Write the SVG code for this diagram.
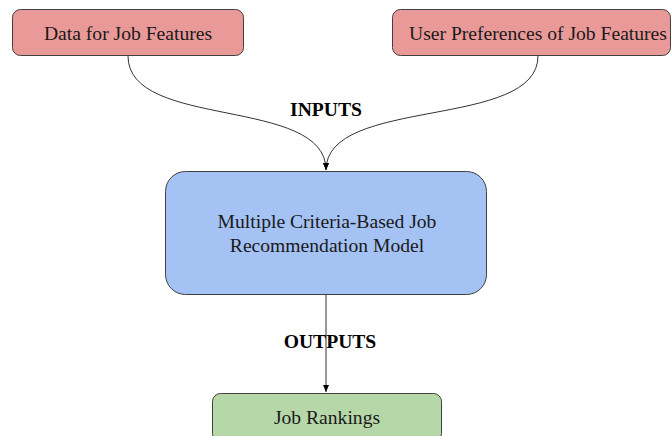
<svg xmlns="http://www.w3.org/2000/svg" width="672" height="436" viewBox="0 0 672 436">
<style>
.node{stroke:#404040;stroke-width:1}
.red{fill:#ea9999}.blue{fill:#a4c2f4}.green{fill:#b6d7a8}
.t{font-family:"Liberation Serif","Times New Roman",serif;font-size:19.6px;fill:#1a1a1a;text-anchor:middle}
.b{font-weight:bold;fill:#000}
.c{fill:none;stroke:#333;stroke-width:1}
</style>
<defs>
<marker id="ah" markerWidth="8" markerHeight="8" viewBox="0 0 8 8" refX="7" refY="4" orient="auto" markerUnits="userSpaceOnUse">
<path d="M0,1 L7,4 L0,7 Z" fill="#000"/>
</marker>
</defs>
<g id="connectors">
<path class="c" d="M128,56 C128,130 326,96 326,170" marker-end="url(#ah)"/>
<path class="c" d="M538,56 C538,130 326,96 326,170" marker-end="url(#ah)"/>
<path class="c" d="M326,295 L326,392" marker-end="url(#ah)"/>
<text class="t b" x="326" y="116">INPUTS</text>
<text class="t b" x="330" y="348">OUTPUTS</text>
</g>
<g id="data">
<rect class="node red" x="12.5" y="9.5" width="231" height="46" rx="8"/>
<text class="t" x="128" y="40">Data for Job Features</text>
</g>
<g id="prefs">
<rect class="node red" x="392.5" y="9.5" width="278" height="46" rx="8"/>
<text class="t" x="538" y="40">User Preferences of Job Features</text>
</g>
<g id="model">
<rect class="node blue" x="165.5" y="171.5" width="321" height="123" rx="20"/>
<text class="t" x="327" y="228">Multiple Criteria-Based Job</text>
<text class="t" x="327" y="252">Recommendation Model</text>
</g>
<g id="rankings">
<rect class="node green" x="212.5" y="393.5" width="229" height="48" rx="8"/>
<text class="t" x="327" y="424">Job Rankings</text>
</g>
</svg>
